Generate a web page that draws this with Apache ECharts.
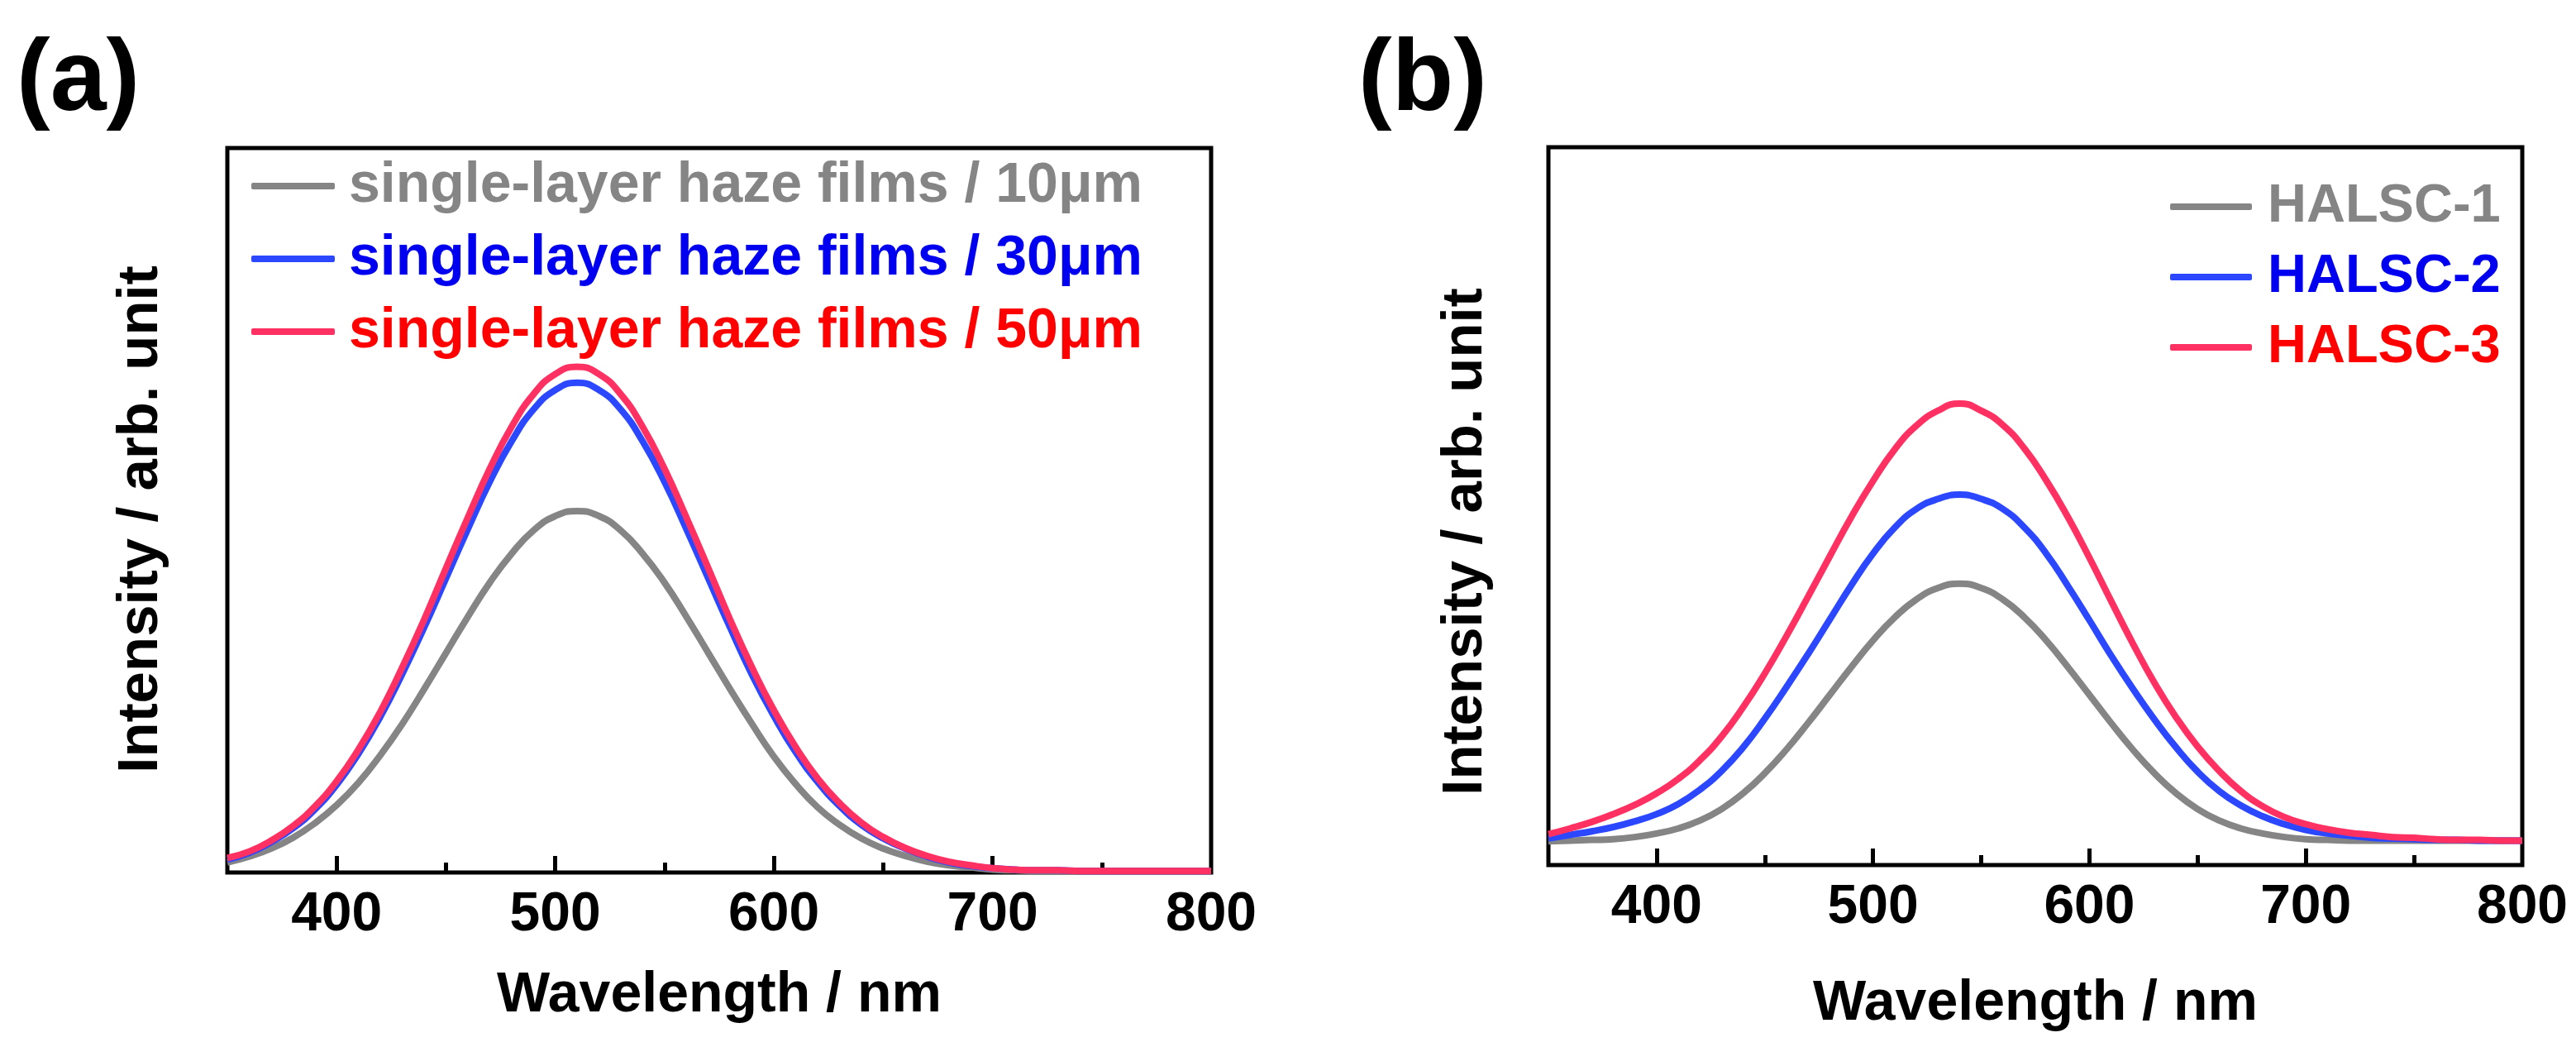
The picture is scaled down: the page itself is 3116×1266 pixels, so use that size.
<!DOCTYPE html>
<html>
  <head>
    <meta charset="utf-8" />
    <title>PL spectra</title>
    <style>
      html, body { margin: 0; padding: 0; background: #fff; }
    </style>
  </head>
  <body>
    <script src="https://cdn.jsdelivr.net/npm/echarts@6/dist/echarts.min.js"></script>

    <div id="container" style="width: 3116px;height: 1266px;"></div>

    <script type="text/javascript">
    // wavelength grid shared by all curves (nm)
    var wavelength = [350, 360, 370, 380, 390, 400, 410, 420, 430, 440,
                      450, 460, 470, 480, 490, 500, 510, 520, 530, 540,
                      550, 560, 570, 580, 590, 600, 610, 620, 630, 640,
                      650, 660, 670, 680, 690, 700, 710, 720, 730, 740,
                      750, 760, 770, 780, 790, 800];

    // (a) single-layer haze films, intensity (0-100 = frame height)
    var film10 = [1.4, 2.2, 3.3, 4.8, 6.8, 9.3, 12.4, 16.2, 20.5, 25.3,
                  30.3, 35.3, 40.0, 44.0, 47.2, 49.2, 49.9, 49.2, 47.2, 44.0,
                  40.0, 35.3, 30.3, 25.3, 20.5, 16.0, 12.2, 9.0, 6.6, 4.7,
                  3.3, 2.3, 1.5, 1.0, 0.7, 0.4, 0.3, 0.2, 0.2, 0.2,
                  0.2, 0.2, 0.2, 0.2, 0.2, 0.2];
    var film30 = [1.8, 2.7, 4.2, 6.1, 8.7, 12.1, 16.4, 21.5, 27.4, 33.8,
                  40.6, 47.4, 53.9, 59.5, 63.9, 66.6, 67.6, 66.6, 63.9, 59.5,
                  53.9, 47.4, 40.6, 33.8, 27.3, 21.6, 16.6, 12.5, 9.2, 6.6,
                  4.7, 3.3, 2.2, 1.4, 0.9, 0.6, 0.4, 0.3, 0.3, 0.2,
                  0.2, 0.2, 0.2, 0.2, 0.2, 0.2];
    var film50 = [2.0, 2.9, 4.4, 6.4, 9.1, 12.6, 17.0, 22.2, 28.3, 34.9,
                  42.0, 49.0, 55.7, 61.5, 66.0, 68.8, 69.8, 68.8, 66.0, 61.5,
                  55.7, 49.0, 42.0, 34.9, 28.3, 22.4, 17.3, 13.0, 9.6, 6.9,
                  4.9, 3.4, 2.3, 1.5, 1.0, 0.6, 0.4, 0.3, 0.3, 0.2,
                  0.2, 0.2, 0.2, 0.2, 0.2, 0.2];

    // (b) HALSC devices
    var halsc1 = [3.3, 3.4, 3.5, 3.6, 3.9, 4.4, 5.1, 6.2, 7.8, 10.0,
                  12.8, 16.1, 19.8, 23.7, 27.6, 31.3, 34.5, 37.0, 38.6, 39.2,
                  38.6, 37.0, 34.5, 31.3, 27.6, 23.7, 19.8, 16.1, 12.8, 10.0,
                  7.8, 6.2, 5.1, 4.4, 3.9, 3.6, 3.5, 3.4, 3.4, 3.4,
                  3.4, 3.4, 3.4, 3.4, 3.4, 3.4];
    var halsc2 = [3.7, 4.2, 4.7, 5.3, 6.1, 7.1, 8.5, 10.5, 13.1, 16.4,
                  20.4, 24.8, 29.4, 34.2, 39.0, 43.4, 47.0, 49.6, 51.0, 51.6,
                  51.0, 49.6, 47.0, 43.4, 38.9, 34.1, 29.2, 24.6, 20.3, 16.4,
                  13.0, 10.3, 8.3, 6.8, 5.7, 4.9, 4.4, 4.1, 3.8, 3.7,
                  3.6, 3.5, 3.5, 3.4, 3.4, 3.4];
    var halsc3 = [4.3, 5.1, 6.0, 7.1, 8.4, 10.0, 12.0, 14.6, 17.9, 22.0,
                  26.7, 31.9, 37.4, 43.0, 48.5, 53.5, 57.9, 61.2, 63.3, 64.3,
                  63.3, 61.3, 58.0, 53.6, 48.5, 42.8, 36.8, 30.9, 25.4, 20.6,
                  16.5, 13.1, 10.3, 8.2, 6.7, 5.7, 5.0, 4.5, 4.2, 3.9,
                  3.8, 3.6, 3.5, 3.5, 3.4, 3.4];

    var namesA = ['single-layer haze films / 10μm',
                  'single-layer haze films / 30μm',
                  'single-layer haze films / 50μm'];
    var namesB = ['HALSC-1', 'HALSC-2', 'HALSC-3'];

    // ticks
    var majorTicks = [400, 500, 600, 700];
    var minorTicks = [450, 550, 650, 750];
    var tickLabels = [400, 500, 600, 700, 800];

    var lineColors = ['#858585', '#2b47ff', '#ff3163'];
    var textColors = ['#858585', '#0000f0', '#ff0000'];
    var FONT = '"Liberation Sans", Arial, Helvetica, sans-serif';

    function pairs(vals) {
        return wavelength.map(function (w, i) { return [w, vals[i]]; });
    }

    function majorAxis(gridIndex, nameGap) {
        return {
            type: 'value', gridIndex: gridIndex, position: 'bottom',
            min: 350, max: 800,
            name: 'Wavelength / nm', nameLocation: 'middle', nameGap: nameGap,
            nameTextStyle: { fontSize: 68, fontWeight: 'bold', color: '#000', fontFamily: FONT },
            axisLine: { show: false },
            axisTick: { show: true, inside: true, length: 20, customValues: majorTicks,
                        lineStyle: { color: '#000', width: 5 } },
            axisLabel: { show: true, customValues: tickLabels, margin: 19,
                         fontSize: 66, fontWeight: 'bold', color: '#000', fontFamily: FONT },
            splitLine: { show: false }
        };
    }

    function minorAxis(gridIndex) {
        return {
            type: 'value', gridIndex: gridIndex, position: 'bottom',
            min: 350, max: 800,
            axisLine: { show: false },
            axisTick: { show: true, inside: true, length: 12, customValues: minorTicks,
                        lineStyle: { color: '#000', width: 5 } },
            axisLabel: { show: false },
            splitLine: { show: false }
        };
    }

    function yAxis(gridIndex, nameGap, shift) {
        return {
            type: 'value', gridIndex: gridIndex, min: 0, max: 100,
            name: 'Intensity / arb. unit', nameLocation: 'middle', nameGap: nameGap,
            nameTextStyle: { fontSize: 69, fontWeight: 'bold', color: '#000', fontFamily: FONT,
                             padding: [0, shift, 0, 0] },
            axisLine: { show: false }, axisTick: { show: false },
            axisLabel: { show: false }, splitLine: { show: false }
        };
    }

    function curve(name, vals, idx, xIndex, yIndex) {
        return {
            name: name, type: 'line', xAxisIndex: xIndex, yAxisIndex: yIndex,
            data: pairs(vals), smooth: true, showSymbol: false,
            color: lineColors[idx],
            lineStyle: { color: lineColors[idx], width: 8 }
        };
    }

    function legendData(names) {
        return names.map(function (n, i) {
            return { name: n, textStyle: { color: textColors[i] } };
        });
    }

    var myChart = echarts.init(document.getElementById('container'));
    var option = {
        backgroundColor: '#fff',
        animation: false,
        title: [
            { text: '(a)', left: 20, top: 38, padding: 0,
              textStyle: { fontSize: 122, fontWeight: 'bold', color: '#000', fontFamily: FONT } },
            { text: '(b)', left: 1643, top: 38, padding: 0,
              textStyle: { fontSize: 122, fontWeight: 'bold', color: '#000', fontFamily: FONT } }
        ],
        grid: [
            { left: 275, top: 179, width: 1190, height: 876, show: true,
              borderColor: '#000', borderWidth: 5, backgroundColor: 'transparent' },
            { left: 1873, top: 178, width: 1178, height: 868, show: true,
              borderColor: '#000', borderWidth: 5, backgroundColor: 'transparent' }
        ],
        legend: [
            { data: legendData(namesA), orient: 'vertical', left: 304, top: 190, padding: 0,
              icon: 'roundRect', itemWidth: 101, itemHeight: 8, itemGap: 18, selectedMode: false,
              textStyle: { fontSize: 68, fontWeight: 'bold', fontFamily: FONT, lineHeight: 70,
                           padding: [0, 0, 0, 12] } },
            { data: legendData(namesB), orient: 'vertical', left: 2625, top: 216, padding: 0,
              icon: 'roundRect', itemWidth: 99, itemHeight: 8, itemGap: 17, selectedMode: false,
              textStyle: { fontSize: 65, fontWeight: 'bold', fontFamily: FONT, lineHeight: 68,
                           padding: [0, 0, 0, 14] } }
        ],
        xAxis: [majorAxis(0, 115), minorAxis(0), majorAxis(1, 134), minorAxis(1)],
        yAxis: [yAxis(0, 70, 22), yAxis(1, 66, 86)],
        series: [
            curve(namesA[0], film10, 0, 0, 0),
            curve(namesA[1], film30, 1, 0, 0),
            curve(namesA[2], film50, 2, 0, 0),
            curve(namesB[0], halsc1, 0, 2, 1),
            curve(namesB[1], halsc2, 1, 2, 1),
            curve(namesB[2], halsc3, 2, 2, 1)
        ]
    };
    myChart.setOption(option);

    window.addEventListener('resize', myChart.resize);
    </script>
  </body>
</html>
